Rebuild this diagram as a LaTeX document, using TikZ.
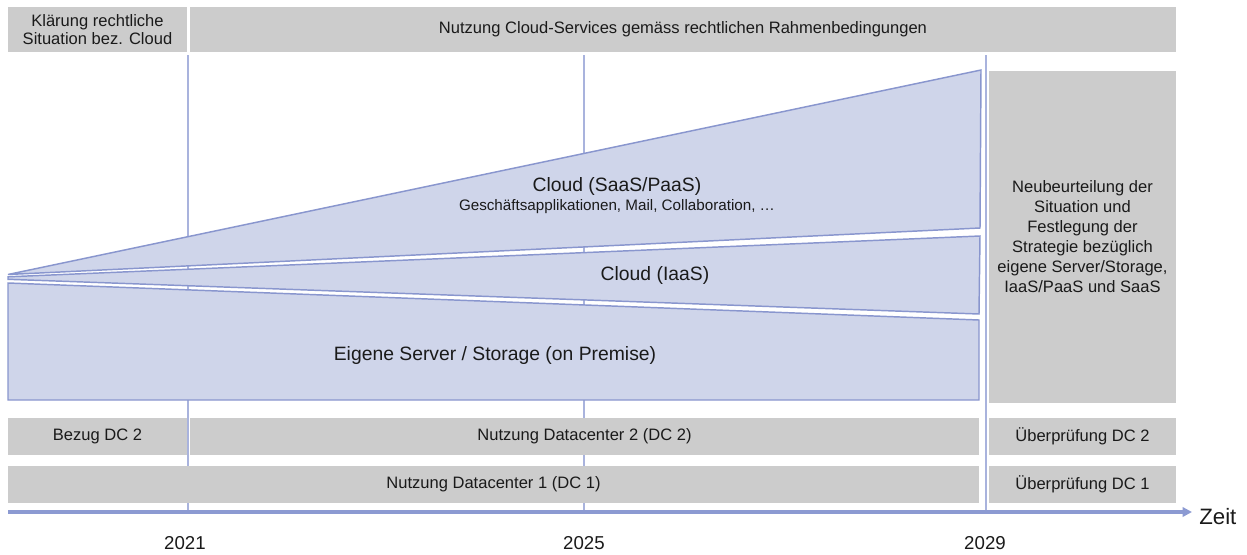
\documentclass[tikz,border=0pt]{standalone}
\usepackage{fontspec}
\setmainfont{Liberation Sans}
\usetikzlibrary{arrows.meta}

\definecolor{boxgray}{HTML}{CCCCCC}
\definecolor{layerfill}{HTML}{CFD5EA}
\definecolor{layerline}{HTML}{8996CE}
\definecolor{gridline}{HTML}{A9B3DD}
\definecolor{axisblue}{HTML}{8C9AD2}
\definecolor{textdark}{HTML}{1A1A1A}

\begin{document}
\begin{tikzpicture}[x=0.75pt,y=-0.75pt, text=textdark,
  graybox/.style={fill=boxgray, inner sep=0pt, align=center,
    font=\fontsize{12.4}{13.8}\selectfont},
  boxsize/.style 2 args={minimum width=#1*0.75pt, minimum height=#2*0.75pt},
  widebox/.style={graybox, font=\fontsize{12.4}{15}\selectfont},
  layer/.style={fill=layerfill, draw=layerline, line width=1.1pt, line join=miter},
  layertext/.style={font=\fontsize{14.5}{17}\selectfont, inner sep=0pt},
  subtext/.style={font=\fontsize{11.4}{13}\selectfont, inner sep=0pt},
  yearline/.style={draw=gridline, line width=1.1pt},
  year/.style={font=\fontsize{14}{16}\selectfont, inner sep=0pt},
  timeaxis/.style={draw=axisblue, line width=2.4pt,
    -{Triangle[length=7pt,width=7pt]}}]

\useasboundingbox (0,0) rectangle (1247,554);

% year markers, drawn first so that boxes and layers cover them
\coordinate (y21top) at (188,55);
\coordinate (y21bot) at (188,512);
\coordinate (y25top) at (584,55);
\coordinate (y25bot) at (584,512);
\coordinate (y29top) at (986,55);
\coordinate (y29bot) at (986,512);
\draw[yearline] (y21top) -- (y21bot);
\draw[yearline] (y25top) -- (y25bot);
\draw[yearline] (y29top) -- (y29bot);

% time axis
\coordinate (axisstart) at (8,512);
\coordinate (axisend) at (1192,512);
\draw[timeaxis] (axisstart) -- (axisend);
\node[font=\fontsize{16.7}{18}\selectfont, anchor=west, inner sep=0pt] (zeit) at (1199,517) {Zeit};

% top row
\node[graybox, boxsize={179}{45}] (klaerung) at (97.5,29.5) {Klärung rechtliche\\Situation bez. Cloud};
\node[graybox, boxsize={986}{45}] (nutzungcloud) at (683,29.5) {Nutzung Cloud-Services gemäss rechtlichen Rahmenbedingungen};

% usage layers
\draw[layer] (8,274.5) -- (981,70) -- (980,228) -- cycle;
\draw[layer] (8,276.8) -- (980,236) -- (979,314) -- (8,279.3) -- cycle;
\draw[layer] (8,283) -- (979,320) -- (979,400) -- (8,400) -- cycle;

\node[layertext] (saas) at (617,186) {Cloud (SaaS/PaaS)};
\node[subtext] (saasdetail) at (617,207) {Geschäftsapplikationen, Mail, Collaboration, …};
\node[layertext] (iaas) at (655,275) {Cloud (IaaS)};
\node[layertext] (onprem) at (495,355) {Eigene Server / Storage (on Premise)};

% reassessment box
\node[widebox, boxsize={187}{332}] (neubeurteilung) at (1082.5,237)
  {Neubeurteilung der\\Situation und\\Festlegung der\\Strategie bezüglich\\eigene Server/Storage,\\IaaS/PaaS und SaaS};

% datacenter rows
\node[graybox, boxsize={179}{37}] (bezugdc2) at (97.5,436.5) {Bezug DC 2};
\node[graybox, boxsize={789}{37}] (nutzungdc2) at (584.5,436.5) {Nutzung Datacenter 2 (DC 2)};
\node[graybox, boxsize={187}{37}] (pruefdc2) at (1082.5,436.5) {Überprüfung DC 2};
\node[graybox, boxsize={971}{37}] (nutzungdc1) at (493.5,484.5) {Nutzung Datacenter 1 (DC 1)};
\node[graybox, boxsize={187}{37}] (pruefdc1) at (1082.5,484.5) {Überprüfung DC 1};

% year labels
\node[year] (l2021) at (185,543.5) {2021};
\node[year] (l2025) at (584,543.5) {2025};
\node[year] (l2029) at (985,543.5) {2029};

\end{tikzpicture}
\end{document}
